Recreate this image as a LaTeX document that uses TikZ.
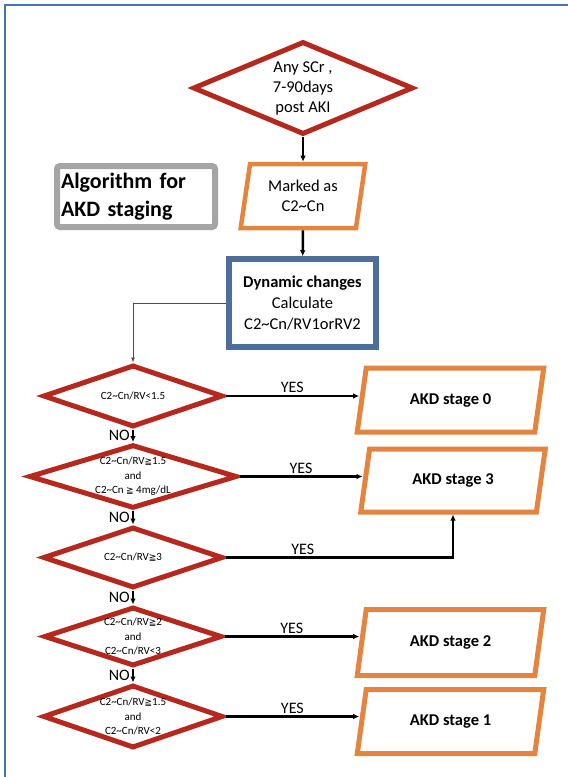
\documentclass[tikz,border=0pt]{standalone}
\usepackage{fontspec}
\setmainfont{Carlito}
\newfontfamily\symfont{DejaVu Sans}
\usepackage{tikz}
\usetikzlibrary{shapes.geometric}
\usetikzlibrary{arrows.meta}
\definecolor{akdred}{RGB}{181,40,30}
\definecolor{akdorange}{RGB}{228,132,63}
\definecolor{akdblue}{RGB}{78,111,153}
\definecolor{akdgray}{RGB}{165,165,165}
\definecolor{framebl}{RGB}{68,114,196}
\newcommand{\tld}{\textasciitilde}
\newcommand{\geqsym}{{\symfont\fontsize{9}{10}\selectfont ≧}}

\begin{document}
\begin{tikzpicture}[x=1pt, y=-1pt,
	decision/.style={diamond, draw=akdred, line width=5pt, inner sep=0pt, aspect=3, align=center, font=\fontsize{11}{14.5}\selectfont},
	stagebox/.style={trapezium, trapezium left angle=77, trapezium right angle=103, trapezium stretches=true, draw=akdorange, line width=5pt, minimum width=188pt, minimum height=64pt, font=\bfseries\fontsize{16.5}{20}\selectfont},
	flow/.style={line width=2.5pt, -{Latex[length=6pt, width=5.5pt]}},
	thinflow/.style={draw=black!70, line width=0.8pt, -{Latex[length=5pt, width=4pt]}},
	lbl/.style={font=\fontsize{16}{19}\selectfont, inner sep=2pt}]
				\useasboundingbox (0,0) rectangle (568,777);
				\draw[framebl, line width=2pt] (5,780) -- (5,5) -- (571,5);

				\node[decision, minimum width=186pt, minimum height=93pt, font=\fontsize{16.5}{20}\selectfont] (scr) at (303,88) {Any SCr ,\\7-90days\\post AKI};
				\node[trapezium, trapezium left angle=80, trapezium right angle=100, trapezium stretches=true, draw=akdorange, line width=4.5pt, minimum width=125pt, minimum height=64pt, align=center, font=\fontsize{16.5}{20}\selectfont] (mark) at (303,196) {Marked as\\C2\tld Cn};
				\node[draw=akdgray, line width=6pt, rounded corners=3pt, text width=150pt, align=left, inner xsep=4pt, minimum height=61pt, font=\bfseries\fontsize{22}{27.5}\selectfont] (title) at (136,196.5) {Algorithm for\\AKD staging};
				\node[draw=akdblue, line width=5.5pt, minimum width=147pt, minimum height=88pt, align=center, font=\fontsize{16.5}{21}\selectfont] (dyn) at (302.5,303) {\textbf{Dynamic changes}\\Calculate\\C2\tld Cn/RV1orRV2};

				\node[decision, minimum width=180pt, minimum height=62pt] (d1) at (133,396) {C2\tld Cn/RV<1.5};
				\node[decision, minimum width=208pt, minimum height=63pt] (d2) at (133,476.5) {C2\tld Cn/RV\geqsym 1.5\\and\\C2\tld Cn \geqsym\ 4mg/dL};
				\node[decision, minimum width=180pt, minimum height=61pt] (d3) at (133,557.5) {C2\tld Cn/RV\geqsym 3};
				\node[decision, minimum width=178pt, minimum height=59pt] (d4) at (133,636.5) {C2\tld Cn/RV\geqsym 2\\and\\C2\tld Cn/RV<3};
				\node[decision, minimum width=180pt, minimum height=63pt] (d5) at (133,716.5) {C2\tld Cn/RV\geqsym 1.5\\and\\C2\tld Cn/RV<2};

				\node[stagebox] (s0) at (450.5,400) {AKD stage 0};
				\node[stagebox, minimum width=186pt, minimum height=63pt] (s3) at (453,480.5) {AKD stage 3};
				\node[stagebox, minimum height=66pt] (s2) at (450.5,642.5) {AKD stage 2};
				\node[stagebox] (s1) at (450.5,721.5) {AKD stage 1};

				\draw[flow] (scr) -- (mark);
				\draw[flow] (mark) -- (dyn);
				\draw[thinflow] (dyn.west) -| (d1.north);
				\draw[flow] (d1.south) -- (d2.north) node[midway, left, lbl] {NO};
				\draw[flow] (d2.south) -- (d3.north) node[midway, left, lbl] {NO};
				\draw[flow] (d3.south) -- (d4.north) node[midway, left, lbl] {NO};
				\draw[flow] (d4.south) -- (d5.north) node[midway, left, lbl] {NO};
				\draw[flow] (d1.east) -- (d1.east -| s0.west) node[midway, above, lbl] {YES};
				\draw[flow] (d2.east) -- (d2.east -| s3.west) node[midway, above, lbl] {YES};
				\draw[flow] (d3.east) -| (s3.south) node[pos=0.17, above, lbl] {YES};
				\draw[flow] (d4.east) -- (d4.east -| s2.west) node[midway, above, lbl] {YES};
				\draw[flow] (d5.east) -- (d5.east -| s1.west) node[midway, above, lbl] {YES};
			\end{tikzpicture}
\end{document}
